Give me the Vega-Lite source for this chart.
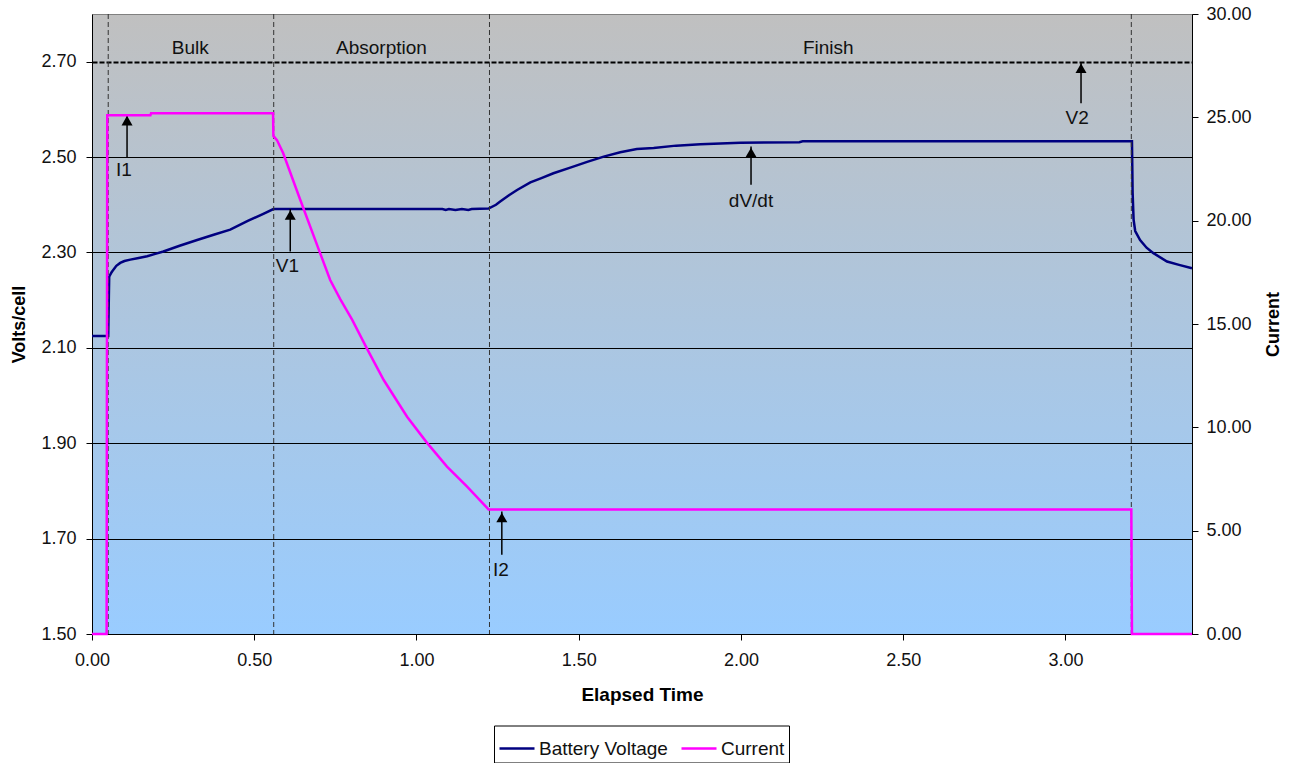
{
  "$schema": "https://vega.github.io/schema/vega-lite/v6.json",
  "width": 1100,
  "height": 620,
  "autosize": {"type": "none"},
  "padding": {"left": 92, "top": 14, "right": 98, "bottom": 129},
  "background": "white",
  "config": {
    "font": "Liberation Sans",
    "view": {
      "fill": {"gradient": "linear", "x1": 0, "y1": 0, "x2": 0, "y2": 1,
        "stops": [{"offset": 0, "color": "#c0c0c0"}, {"offset": 1, "color": "#99ccff"}]},
      "stroke": "#808080"
    },
    "axis": {
      "labelFont": "Liberation Sans", "titleFont": "Liberation Sans",
      "labelFontSize": 18, "titleFontSize": 18, "titleFontWeight": "bold",
      "labelColor": "#111", "titleColor": "#000",
      "domainColor": "#000", "tickColor": "#000", "tickSize": 6,
      "labelFlush": false, "labelOverlap": false
    }
  },
  "datasets": {
    "voltage": [
      {"t": 0.0, "v": 2.125}, {"t": 0.05, "v": 2.125}, {"t": 0.052, "v": 2.211}, {"t": 0.053, "v": 2.249},
      {"t": 0.06, "v": 2.258}, {"t": 0.066, "v": 2.264}, {"t": 0.075, "v": 2.272}, {"t": 0.087, "v": 2.278},
      {"t": 0.1, "v": 2.282}, {"t": 0.118, "v": 2.285}, {"t": 0.14, "v": 2.288}, {"t": 0.17, "v": 2.292},
      {"t": 0.195, "v": 2.297}, {"t": 0.22, "v": 2.302}, {"t": 0.27, "v": 2.314}, {"t": 0.324, "v": 2.326},
      {"t": 0.375, "v": 2.337}, {"t": 0.426, "v": 2.348}, {"t": 0.48, "v": 2.366}, {"t": 0.528, "v": 2.381},
      {"t": 0.559, "v": 2.391}, {"t": 0.6, "v": 2.391}, {"t": 0.8, "v": 2.391}, {"t": 1.0, "v": 2.391},
      {"t": 1.08, "v": 2.391}, {"t": 1.09, "v": 2.389}, {"t": 1.1, "v": 2.391}, {"t": 1.12, "v": 2.389},
      {"t": 1.14, "v": 2.391}, {"t": 1.16, "v": 2.389}, {"t": 1.17, "v": 2.391}, {"t": 1.222, "v": 2.392},
      {"t": 1.245, "v": 2.4}, {"t": 1.258, "v": 2.407}, {"t": 1.285, "v": 2.42}, {"t": 1.31, "v": 2.431},
      {"t": 1.351, "v": 2.447}, {"t": 1.385, "v": 2.456}, {"t": 1.422, "v": 2.466}, {"t": 1.474, "v": 2.478},
      {"t": 1.526, "v": 2.49}, {"t": 1.577, "v": 2.501}, {"t": 1.628, "v": 2.51}, {"t": 1.679, "v": 2.517},
      {"t": 1.731, "v": 2.519}, {"t": 1.8, "v": 2.524}, {"t": 1.875, "v": 2.527}, {"t": 1.998, "v": 2.53},
      {"t": 2.18, "v": 2.531}, {"t": 2.19, "v": 2.533}, {"t": 2.6, "v": 2.533}, {"t": 3.0, "v": 2.533},
      {"t": 3.205, "v": 2.533}, {"t": 3.207, "v": 2.425}, {"t": 3.21, "v": 2.369}, {"t": 3.215, "v": 2.345},
      {"t": 3.23, "v": 2.326}, {"t": 3.25, "v": 2.31}, {"t": 3.27, "v": 2.299}, {"t": 3.313, "v": 2.281},
      {"t": 3.35, "v": 2.274}, {"t": 3.39, "v": 2.267}
    ],
    "current": [
      {"t": 0.0, "i": 0}, {"t": 0.045, "i": 0}, {"t": 0.047, "i": 25.1}, {"t": 0.18, "i": 25.1},
      {"t": 0.182, "i": 25.2}, {"t": 0.558, "i": 25.2}, {"t": 0.559, "i": 24.1}, {"t": 0.57, "i": 23.9},
      {"t": 0.589, "i": 23.27}, {"t": 0.642, "i": 21.0}, {"t": 0.703, "i": 18.43}, {"t": 0.734, "i": 17.13},
      {"t": 0.765, "i": 16.2}, {"t": 0.802, "i": 15.2}, {"t": 0.847, "i": 13.82}, {"t": 0.899, "i": 12.29},
      {"t": 0.971, "i": 10.51}, {"t": 1.032, "i": 9.26}, {"t": 1.094, "i": 8.1}, {"t": 1.156, "i": 7.13},
      {"t": 1.222, "i": 6.03}, {"t": 1.3, "i": 6.03}, {"t": 3.203, "i": 6.03}, {"t": 3.205, "i": 0},
      {"t": 3.39, "i": 0}
    ],
    "phases": [
      {"t": 0.303, "v": 2.729, "label": "Bulk"},
      {"t": 0.892, "v": 2.729, "label": "Absorption"},
      {"t": 2.269, "v": 2.729, "label": "Finish"}
    ],
    "markers": [{"t": 0.05}, {"t": 0.56}, {"t": 1.225}, {"t": 3.203}],
    "arrows": [
      {"t": 0.108, "y1": 2.5, "y2": 2.589, "label": "I1", "lt": 0.098, "ly": 2.473},
      {"t": 0.611, "y1": 2.302, "y2": 2.391, "label": "V1", "lt": 0.602, "ly": 2.272},
      {"t": 1.263, "y1": 1.666, "y2": 1.757, "label": "I2", "lt": 1.26, "ly": 1.634},
      {"t": 2.031, "y1": 2.442, "y2": 2.522, "label": "dV/dt", "lt": 2.031, "ly": 2.407},
      {"t": 3.048, "y1": 2.613, "y2": 2.699, "label": "V2", "lt": 3.036, "ly": 2.582}
    ]
  },
  "layer": [
    {
      "layer": [
        {
          "data": {"name": "voltage"},
          "mark": {"type": "line", "strokeWidth": 2.5, "interpolate": "linear"},
          "encoding": {
            "x": {"field": "t", "type": "quantitative",
              "scale": {"domain": [0, 3.39], "nice": false, "zero": false},
              "axis": {"title": "Elapsed Time", "values": [0, 0.5, 1, 1.5, 2, 2.5, 3], "format": ".2f",
                "grid": false, "labelPadding": 11, "titlePadding": 16, "titleFontSize": 19}},
            "y": {"field": "v", "type": "quantitative",
              "scale": {"domain": [1.5, 2.8], "nice": false, "zero": false},
              "axis": {"title": "Volts/cell", "orient": "left", "values": [1.5, 1.7, 1.9, 2.1, 2.3, 2.5, 2.7],
                "format": ".2f", "grid": true, "gridColor": "#000", "gridOpacity": 1,
                "gridWidth": {"condition": {"test": "datum.value > 2.65", "value": 2}, "value": 1},
                "gridDash": {"condition": {"test": "datum.value > 2.65", "value": [5, 2]}, "value": []},
                "labelPadding": 10, "titlePadding": 12}},
            "color": {"datum": "Battery Voltage", "type": "nominal",
              "scale": {"domain": ["Battery Voltage", "Current"], "range": ["#000080", "#ff00ff"]},
              "legend": {"title": null, "orient": "none", "legendX": 402, "legendY": 711.5,
                "direction": "horizontal", "symbolType": "stroke", "symbolSize": 1225,
                "symbolStrokeWidth": 2.5, "labelFontSize": 19, "labelFont": "Liberation Sans",
                "labelColor": "#111", "labelOffset": 3, "columnPadding": 8, "padding": 4,
                "strokeColor": "#000", "fillColor": "#fff"}}
          }
        },
        {
          "data": {"name": "markers"},
          "mark": {"type": "rule", "color": "#333", "strokeWidth": 1, "strokeDash": [5, 3]},
          "encoding": {
            "x": {"field": "t", "type": "quantitative"}
          }
        },
        {
          "data": {"name": "phases"},
          "mark": {"type": "text", "fontSize": 19, "color": "#111", "baseline": "middle", "align": "center"},
          "encoding": {
            "x": {"field": "t", "type": "quantitative"},
            "y": {"field": "v", "type": "quantitative"},
            "text": {"field": "label"}
          }
        },
        {
          "data": {"name": "arrows"},
          "mark": {"type": "rule", "color": "#000", "strokeWidth": 1.5},
          "encoding": {
            "x": {"field": "t", "type": "quantitative"},
            "y": {"field": "y1", "type": "quantitative"},
            "y2": {"field": "y2"}
          }
        },
        {
          "data": {"name": "arrows"},
          "mark": {"type": "point", "shape": "triangle-up", "filled": true, "color": "#000", "size": 121, "opacity": 1, "yOffset": 6},
          "encoding": {
            "x": {"field": "t", "type": "quantitative"},
            "y": {"field": "y2", "type": "quantitative"}
          }
        },
        {
          "data": {"name": "arrows"},
          "mark": {"type": "text", "fontSize": 19, "color": "#111", "baseline": "middle", "align": "center"},
          "encoding": {
            "x": {"field": "lt", "type": "quantitative"},
            "y": {"field": "ly", "type": "quantitative"},
            "text": {"field": "label"}
          }
        }
      ]
    },
    {
      "data": {"name": "current"},
      "mark": {"type": "line", "strokeWidth": 2.5, "interpolate": "linear"},
      "encoding": {
        "x": {"field": "t", "type": "quantitative"},
        "y": {"field": "i", "type": "quantitative",
          "scale": {"domain": [0, 30], "nice": false, "zero": false},
          "axis": {"title": "Current", "orient": "right", "values": [0, 5, 10, 15, 20, 25, 30], "format": ".2f",
            "grid": false, "labelPadding": 8, "titlePadding": 31, "titleAngle": 270}},
        "color": {"datum": "Current", "type": "nominal"}
      }
    }
  ],
  "resolve": {"scale": {"y": "independent"}}
}
